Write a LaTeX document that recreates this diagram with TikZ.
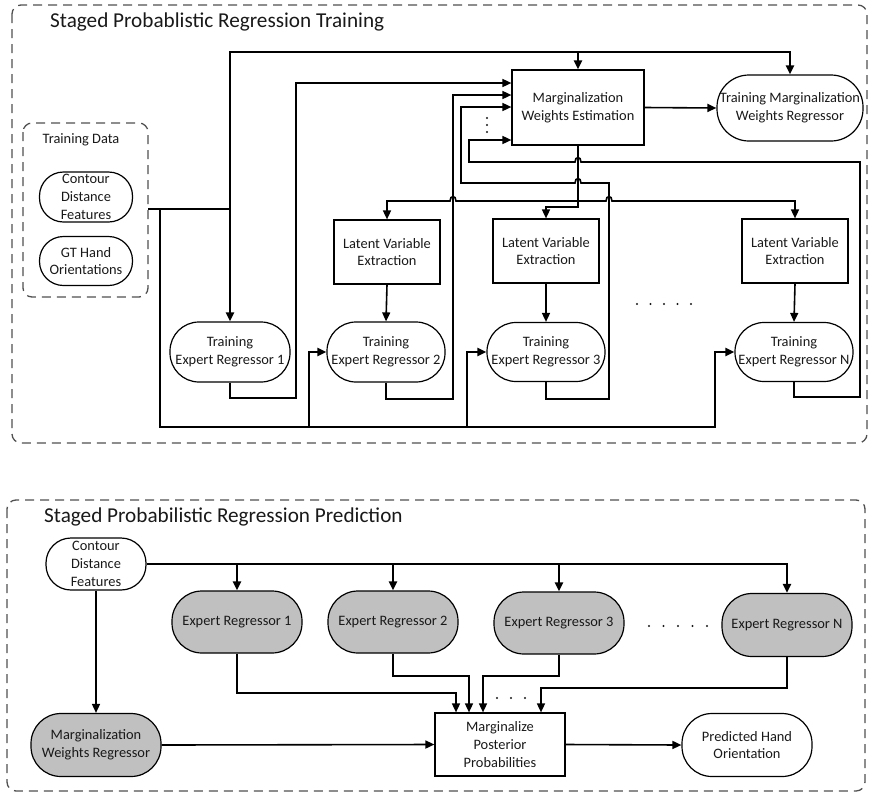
\documentclass[tikz,border=0pt]{standalone}
\usepackage{fontspec}
\setmainfont{Carlito}
\usetikzlibrary{arrows.meta}
\definecolor{ergray}{RGB}{192,192,192}
\definecolor{dashgray}{RGB}{80,80,80}
\definecolor{txt}{RGB}{25,25,25}
\newcommand\myNodeFont{\fontsize{14.4}{17.8}\selectfont}
\newcommand\myTitleFont{\fontsize{21.2}{25}\selectfont}
\begin{document}
\begin{tikzpicture}[x=1pt,y=-1pt,
  conn/.style={line width=1.6pt,-{Triangle[length=9pt,width=8pt]}},
  plain/.style={line width=1.6pt},
  data/.style={line width=2pt},
  dbox/.style={draw=dashgray,line width=1.3pt,dash pattern=on 9pt off 6pt,rounded corners=9pt},
  stad/.style n args={3}{draw,line width=1.2pt,minimum width=#1pt,minimum height=#2pt,rounded corners=#3pt,inner sep=0pt,align=center,font=\myNodeFont,text=txt},
  rbox/.style n args={2}{draw,line width=1.2pt,minimum width=#1pt,minimum height=#2pt,inner sep=0pt,align=center,font=\myNodeFont,text=txt},
  lbl/.style={font=\myNodeFont,text=txt},
  ttl/.style={font=\myTitleFont,text=txt,anchor=west,inner sep=0pt},
  dot/.style={fill=txt}
]
\useasboundingbox (0,0) rectangle (870,793);

% ================= Training =================
\draw[dbox] (12,5) rectangle (867,443);
\node[ttl] (ttitle) at (50,22) {Staged Probablistic Regression Training};

\draw[dbox] (23,123) rectangle (148,297);
\node[lbl] (tdlabel) at (81,140) {Training Data};
\node[stad={93}{50}{24}] (cdf1) at (86,197) {Contour\\Distance\\Features};
\node[stad={93}{49}{24}] (gt) at (86,261) {GT Hand\\Orientations};
\coordinate (fs) at (148,209);

\node[rbox={132}{75}] (mwe) at (578,107.5) {Marginalization\\Weights Estimation};
\node[stad={146}{66}{32}] (tmwr) at (790,108) {Training Marginalization\\Weights Regressor};

\node[rbox={106}{64}] (lve2) at (387,252) {Latent Variable\\Extraction};
\node[rbox={106}{64}] (lve3) at (546,251) {Latent Variable\\Extraction};
\node[rbox={106}{64}] (lven) at (795,251) {Latent Variable\\Extraction};

\node[stad={120}{60}{29}] (ter1) at (230,352) {Training\\Expert Regressor 1};
\node[stad={118}{60}{29}] (ter2) at (386,352) {Training\\Expert Regressor 2};
\node[stad={118}{59}{29}] (ter3) at (546,352) {Training\\Expert Regressor 3};
\node[stad={118}{59}{29}] (tern) at (794,352) {Training\\Expert Regressor N};

% data connections
\draw[conn,data] (fs) -| (ter1.north);
\draw[conn,data] (ter1.north |- fs) -- (ter1.north |- 0,52) -| (tmwr.north);
\draw[conn,data] (mwe.north |- 0,52) -- (mwe.north);
\draw[conn,data] (160,209) -- (160,427) -- (715,427) |- (tern.west);
\draw[conn,data] (309,427) |- (ter2.west);
\draw[conn,data] (467,427) |- (ter3.west);

% expert outputs to MWE
\draw[conn] (ter1.south) |- (296,398) |- (mwe.west |- 0,83);
\draw[conn] (ter2.south) |- (453,399) |- (mwe.west |- 0,95);
\draw[conn] (ter3.south) |- (609,399) -- (609,183) -- (581,183)
   .. controls (581,177) and (575,177) .. (575,183) -- (461,183) |- (mwe.west |- 0,107);
\draw[conn] (tern.south) |- (860,397) -- (860,162) -- (581,162)
   .. controls (581,156) and (575,156) .. (575,162) -- (469,162) |- (mwe.west |- 0,140);
\foreach \yy in {118,125,132} \fill[dot] (487,\yy) circle (1.1pt);

% MWE outputs
\draw[conn] (mwe.east) -- (tmwr.west);
\draw[conn] (mwe.south) -- (578,207) -| (lve3.north);
\draw[conn] (mwe.south |- 0,201) -- (456,201)
   .. controls (456,195) and (450,195) .. (450,201) -| (lve2.north);
\draw[conn] (mwe.south |- 0,201) -- (606,201)
   .. controls (606,195) and (612,195) .. (612,201) -| (lven.north);

\draw[conn] (lve2.south) -- (ter2.north);
\draw[conn] (lve3.south) -- (ter3.north);
\draw[conn] (lven.south) -- (tern.north);
\foreach \xx in {637,650.5,664,677.5,691} \fill[dot] (\xx,304) circle (1.1pt);

% ================= Prediction =================
\draw[dbox] (7,500) rectangle (865,791);
\node[ttl] (ptitle) at (44,517) {Staged Probabilistic Regression Prediction};

\node[stad={100}{52}{25}] (cdf2) at (96,564) {Contour\\Distance\\Features};
\node[stad={130}{62}{30},fill=ergray] (er1) at (237,622) {Expert Regressor 1};
\node[stad={130}{62}{30},fill=ergray] (er2) at (393,622) {Expert Regressor 2};
\node[stad={130}{62}{30},fill=ergray] (er3) at (559,623) {Expert Regressor 3};
\node[stad={130}{63}{30},fill=ergray] (ern) at (787,625) {Expert Regressor N};
\node[stad={130}{63}{30},fill=ergray] (mwr) at (96,745) {Marginalization\\Weights Regressor};
\node[rbox={130}{63}] (mpp) at (500,744.5) {Marginalize\\Posterior\\Probabilities};
\node[stad={130}{63}{30}] (pho) at (747,745) {Predicted Hand\\Orientation};
\foreach \xx in {649,663.5,678,692.5,707} \fill[dot] (\xx,626) circle (1.1pt);
\foreach \xx in {497,511,525} \fill[dot] (\xx,698) circle (1.1pt);

\draw[conn,data] (cdf2.east) -| (ern.north);
\draw[conn,data] (er1.north |- cdf2.east) -- (er1.north);
\draw[conn,data] (er2.north |- cdf2.east) -- (er2.north);
\draw[conn,data] (er3.north |- cdf2.east) -- (er3.north);
\draw[conn] (cdf2.south) -- (mwr.north);
\draw[conn] (mwr.east) -- (mpp.west);
\draw[conn] (er1.south) |- (456,693) -- (mpp.north -| 456,0);
\draw[conn] (er2.south) |- (469,676) -- (mpp.north -| 469,0);
\draw[conn] (er3.south) |- (483,676) -- (mpp.north -| 483,0);
\draw[conn] (ern.south) |- (541,688) -- (mpp.north -| 541,0);
\draw[conn] (mpp.east) -- (pho.west);
\end{tikzpicture}
\end{document}
